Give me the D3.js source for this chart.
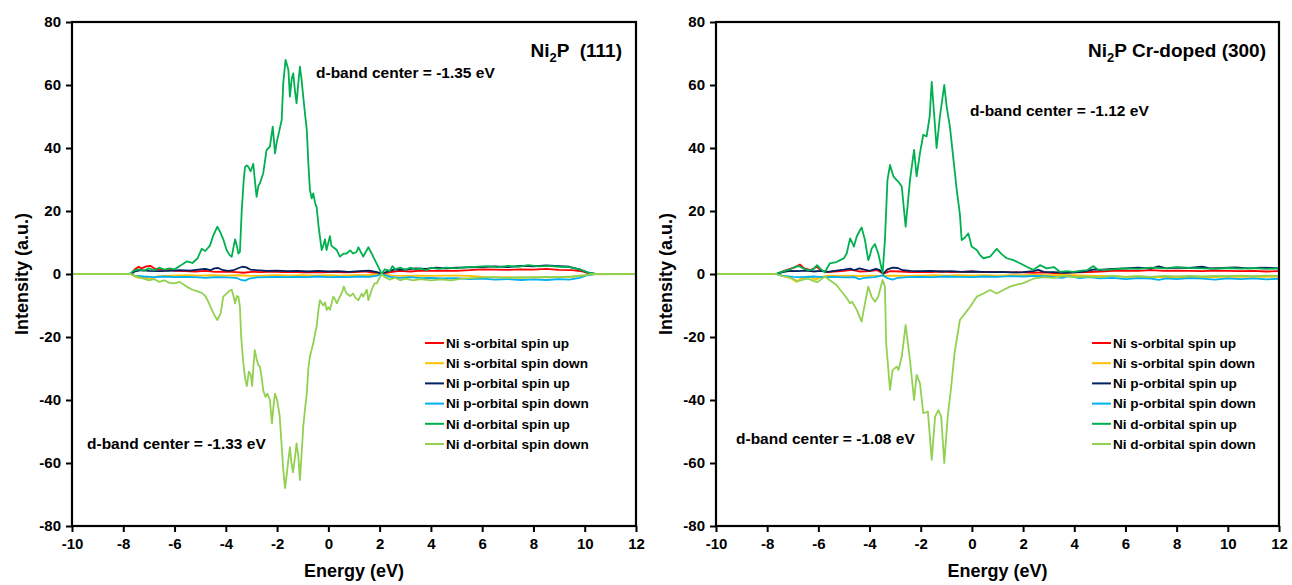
<!DOCTYPE html>
<html>
<head>
<meta charset="utf-8">
<script src="https://cdn.jsdelivr.net/npm/d3@7"></script>
<style>
  body { margin: 0; background: #fff; }
  text { font-family: "Liberation Sans", Arial, sans-serif; font-weight: bold; fill: #000; }
</style>
</head>
<body>
<svg id="chart" width="1292" height="585"></svg>
<script>
// tick values
const xTicks = [-10, -8, -6, -4, -2, 0, 2, 4, 6, 8, 10, 12];
const yTicks = [-80, -60, -40, -20, 0, 20, 40, 60, 80];

const seriesNames = [
  "Ni s-orbital spin up",
  "Ni s-orbital spin down",
  "Ni p-orbital spin up",
  "Ni p-orbital spin down",
  "Ni d-orbital spin up",
  "Ni d-orbital spin down"
];
const seriesColors = ["#ff0000", "#ffc000", "#002060", "#00b0f0", "#00b050", "#92d050"];

// ---- Ni2P (111) : [energy eV, intensity] ----
const L_sUp = [[-10,0],[-7.7,0],[-7.55,1.5],[-7.4,2.3],[-7.3,1.8],[-7.1,2.4],[-6.95,2.6],[-6.8,1.8],[-6.6,1.5],[-6.4,1.2],[-6.2,1.5],[-6.0,1.0],[-5.6,0.9],[-5.2,0.8],[-4.8,1.0],[-4.4,0.7],[-4.0,0.8],[-3.6,0.6],[-3.3,0.4],[-3.0,0.7],[-2.6,0.6],[-2.2,0.8],[-1.8,0.6],[-1.4,0.7],[-1.0,0.5],[-0.6,0.6],[-0.2,0.5],[0.2,0.7],[0.6,0.5],[1.0,0.6],[1.4,0.8],[1.8,0.4],[2.08,0],[2.4,0.6],[2.8,1.0],[3.2,0.8],[3.6,1.1],[4.0,1.0],[4.5,1.1],[5.0,1.0],[5.5,1.2],[6.0,1.5],[6.5,1.4],[7.0,1.3],[7.5,1.5],[8.0,1.4],[8.5,1.6],[9.0,1.3],[9.5,1.2],[9.9,0.8],[10.2,0.1],[12,0]];
const L_sDn = [[-10,0],[-7.7,0],[-7.55,-0.8],[-7.4,-1.2],[-7.2,-1.0],[-7.0,-1.5],[-6.85,-1.6],[-6.7,-0.8],[-6.4,-0.6],[-6.0,-0.5],[-5.5,-0.4],[-5.0,-0.5],[-4.5,-0.4],[-4.0,-0.5],[-3.5,-0.4],[-3.0,-0.6],[-2.5,-0.5],[-2.0,-0.4],[-1.5,-0.5],[-1.0,-0.4],[-0.5,-0.5],[0,-0.4],[0.5,-0.5],[1.0,-0.4],[1.5,-0.4],[2.08,0],[2.5,-0.5],[3.0,-0.6],[3.5,-0.5],[4.0,-0.6],[4.5,-0.5],[5.0,-0.5],[5.5,-0.6],[6.0,-0.9],[6.5,-1.1],[7.0,-1.0],[7.5,-1.2],[8.0,-1.0],[8.5,-1.1],[9.0,-1.0],[9.5,-0.9],[9.9,-0.6],[10.2,-0.1],[12,0]];
const L_pUp = [[-10,0],[-7.7,0],[-7.55,0.8],[-7.3,1.2],[-7.0,1.0],[-6.6,0.9],[-6.2,1.0],[-5.8,1.2],[-5.4,1.1],[-5.0,1.5],[-4.8,1.6],[-4.6,1.2],[-4.45,1.8],[-4.3,1.9],[-4.1,1.2],[-3.9,1.0],[-3.7,1.2],[-3.5,1.9],[-3.35,2.3],[-3.2,2.1],[-3.05,1.4],[-2.8,1.2],[-2.4,1.0],[-2.0,1.1],[-1.6,0.9],[-1.2,1.0],[-0.8,0.8],[-0.4,1.0],[0,0.8],[0.4,0.9],[0.8,0.7],[1.2,0.9],[1.6,1.1],[1.9,0.6],[2.08,0],[2.3,0.8],[2.6,1.5],[3.0,1.4],[3.4,1.8],[3.8,1.6],[4.2,2.0],[4.6,1.8],[5.0,2.0],[5.5,2.1],[6.0,2.2],[6.5,2.4],[7.0,2.2],[7.5,2.6],[8.0,2.4],[8.5,2.7],[9.0,2.5],[9.4,2.3],[9.8,1.5],[10.1,0.5],[10.4,0],[12,0]];
const L_pDn = [[-10,0],[-7.7,0],[-7.55,-0.5],[-7.2,-0.8],[-6.8,-1.0],[-6.4,-0.8],[-6.0,-1.0],[-5.6,-0.9],[-5.2,-1.0],[-4.8,-1.2],[-4.4,-1.0],[-4.0,-1.1],[-3.6,-1.2],[-3.4,-1.9],[-3.25,-2.1],[-3.1,-1.5],[-2.8,-1.1],[-2.4,-1.0],[-2.0,-0.9],[-1.6,-1.0],[-1.2,-0.9],[-0.8,-1.0],[-0.4,-0.8],[0,-1.0],[0.4,-0.9],[0.8,-1.0],[1.2,-0.8],[1.6,-0.9],[1.9,-0.5],[2.08,0],[2.4,-0.9],[2.8,-1.2],[3.2,-1.0],[3.6,-1.3],[4.0,-1.2],[4.5,-1.4],[5.0,-1.3],[5.5,-1.6],[6.0,-1.5],[6.5,-1.8],[7.0,-1.6],[7.5,-1.9],[8.0,-1.7],[8.5,-1.9],[9.0,-1.6],[9.4,-1.8],[9.8,-1.2],[10.1,-0.4],[10.4,0],[12,0]];
const L_dUp = [[-10,0],[-7.75,0],[-7.6,1],[-7.4,1.5],[-7.2,1],[-7.0,1.8],[-6.8,1.2],[-6.6,2],[-6.4,1.4],[-6.2,1.8],[-6.0,1.5],[-5.8,2.5],[-5.53,4],[-5.3,3.5],[-5.1,5],[-4.94,8],[-4.8,7.3],[-4.62,9],[-4.5,12],[-4.33,15],[-4.2,13],[-4.1,11],[-3.97,7.6],[-3.85,6],[-3.77,5.5],[-3.64,11],[-3.57,9],[-3.51,6.5],[-3.45,7],[-3.38,20],[-3.3,30],[-3.25,34],[-3.18,34.5],[-3.12,34],[-3.03,32.6],[-2.93,35],[-2.87,30],[-2.8,24.5],[-2.73,28],[-2.67,28.8],[-2.54,32],[-2.41,39.4],[-2.28,40.4],[-2.17,46.8],[-2.08,38.3],[-2.02,41.5],[-1.9,46],[-1.82,48.9],[-1.76,60.5],[-1.67,68],[-1.6,66],[-1.56,64.8],[-1.5,56.3],[-1.43,62],[-1.37,63.7],[-1.3,58],[-1.24,54.2],[-1.18,60],[-1.11,65.8],[-1.05,62],[-0.98,56.3],[-0.9,50],[-0.84,45.7],[-0.78,35],[-0.72,26.7],[-0.65,24],[-0.59,25.6],[-0.5,22],[-0.46,21.4],[-0.38,15],[-0.33,11.9],[-0.26,7.6],[-0.2,9],[-0.13,11],[-0.07,7.6],[0.06,12],[0.12,9],[0.19,8.5],[0.33,7.6],[0.45,5.5],[0.6,6.5],[0.71,6.5],[0.85,7.5],[0.97,6.5],[1.1,7],[1.17,8.5],[1.36,5.5],[1.56,8.5],[1.69,6.5],[1.88,3.4],[2.08,0],[2.2,1.5],[2.4,1],[2.5,2.5],[2.6,1.5],[2.8,2],[3.0,1.3],[3.2,2],[3.4,1.5],[3.6,1.8],[3.8,1.2],[4.0,2],[4.3,1.6],[4.6,2],[5.0,1.8],[5.4,2.2],[5.8,2.3],[6.2,2.5],[6.6,2.2],[7.0,2.6],[7.4,2.3],[7.8,2.8],[8.2,2.4],[8.6,2.6],[9.0,2.3],[9.4,2.2],[9.8,1.5],[10.1,0.5],[10.4,0.1],[12,0]];
const L_dDn = [[-10,0],[-7.7,0],[-7.55,-0.5],[-7.4,-1],[-7.2,-1.5],[-7.0,-2],[-6.8,-1.6],[-6.6,-2.5],[-6.4,-2],[-6.2,-2.8],[-6.0,-3],[-5.8,-2.5],[-5.53,-4],[-5.3,-5],[-5.1,-5.5],[-4.94,-6],[-4.8,-7],[-4.7,-8.5],[-4.6,-10.4],[-4.45,-13],[-4.33,-14.6],[-4.2,-12.5],[-4.1,-7.2],[-3.97,-6.2],[-3.85,-5.3],[-3.77,-5],[-3.7,-7],[-3.64,-9.3],[-3.57,-7],[-3.51,-7.2],[-3.45,-10.4],[-3.4,-20],[-3.33,-27.3],[-3.25,-33],[-3.18,-35.6],[-3.1,-31],[-3.03,-32],[-2.97,-35.5],[-2.93,-30],[-2.87,-24.2],[-2.8,-27],[-2.73,-29],[-2.67,-29.4],[-2.6,-33],[-2.54,-37],[-2.45,-39],[-2.38,-38],[-2.28,-40],[-2.2,-47.4],[-2.13,-41],[-2.08,-38],[-2.0,-40],[-1.9,-45],[-1.82,-54.8],[-1.76,-62],[-1.69,-68],[-1.63,-64],[-1.56,-59],[-1.5,-55],[-1.44,-60],[-1.38,-63],[-1.3,-58],[-1.24,-53.8],[-1.17,-58],[-1.11,-65.4],[-1.05,-58],[-0.98,-48.5],[-0.9,-42],[-0.84,-37.9],[-0.78,-30],[-0.72,-26.2],[-0.65,-24],[-0.59,-22],[-0.52,-19],[-0.46,-16.7],[-0.38,-11],[-0.33,-8.3],[-0.26,-9.3],[-0.2,-10],[-0.13,-9],[-0.07,-11.4],[0.0,-10.5],[0.06,-11.4],[0.19,-7.2],[0.26,-8],[0.33,-9.3],[0.45,-7.2],[0.55,-5.5],[0.6,-4],[0.71,-6.2],[0.85,-7],[0.97,-6.2],[1.05,-7.5],[1.17,-8.3],[1.3,-6.2],[1.36,-7.2],[1.5,-5],[1.56,-8.3],[1.69,-5],[1.8,-3],[1.88,-3],[2.08,0],[2.2,-1],[2.4,-1.8],[2.6,-1.2],[2.8,-2],[3.0,-1.5],[3.3,-2],[3.6,-1.6],[4.0,-2],[4.4,-1.7],[4.8,-2],[5.2,-1.5],[5.6,-1.3],[6.0,-1.1],[6.5,-1],[7.0,-1.2],[7.5,-1],[8.0,-1.1],[8.5,-0.9],[9.0,-1],[9.5,-0.8],[10.0,-0.4],[10.3,0],[12,0]];

// ---- Ni2P Cr-doped (300) ----
const R_sUp = [[-10,0],[-7.65,0],[-7.4,0.8],[-7.1,1.6],[-6.9,2.2],[-6.72,3.0],[-6.55,1.8],[-6.3,1.2],[-6.06,2.3],[-5.9,1.2],[-5.7,0.6],[-5.4,0.8],[-5.0,1.0],[-4.7,1.3],[-4.4,0.8],[-4.0,0.9],[-3.7,1.2],[-3.46,0.1],[-3.2,0.9],[-2.8,0.8],[-2.4,0.6],[-2.0,0.7],[-1.6,0.6],[-1.2,0.8],[-0.8,0.6],[-0.4,0.7],[0,0.8],[0.4,0.6],[0.8,0.7],[1.2,0.6],[1.6,0.5],[2.0,0.5],[2.4,0.4],[2.8,0.5],[3.2,0.3],[3.6,0.4],[4.0,0.5],[4.5,0.6],[5.0,0.8],[5.5,1.0],[6.0,1.1],[6.5,1.0],[7.0,1.2],[7.5,1.0],[8.0,1.1],[8.5,1.0],[9.0,0.9],[9.5,1.1],[10.0,1.0],[10.5,0.9],[11.0,1.0],[11.5,0.8],[12,0.9]];
const R_sDn = [[-10,0],[-7.65,0],[-7.4,-0.6],[-7.1,-1.2],[-6.85,-2.5],[-6.7,-1.5],[-6.4,-0.8],[-6.1,-1.8],[-5.9,-1.0],[-5.6,-0.5],[-5.2,-0.6],[-4.8,-0.5],[-4.4,-0.7],[-4.0,-0.5],[-3.5,-0.6],[-3.0,-0.5],[-2.5,-0.6],[-2.0,-0.5],[-1.5,-0.4],[-1.0,-0.5],[-0.5,-0.4],[0,-0.5],[0.5,-0.4],[1.0,-0.5],[1.5,-0.4],[2.0,-0.4],[2.5,-0.3],[3.0,-0.4],[3.5,-0.3],[4.0,-0.4],[4.5,-0.5],[5.0,-0.6],[5.5,-0.7],[6.0,-0.9],[6.5,-0.8],[7.0,-1.0],[7.5,-0.9],[8.0,-1.1],[8.5,-1.0],[9.0,-0.9],[9.5,-1.0],[10.0,-0.8],[10.5,-0.9],[11.0,-0.8],[11.5,-0.9],[12,-0.8]];
const R_pUp = [[-10,0],[-7.65,0],[-7.4,0.6],[-7.1,1.0],[-6.8,0.9],[-6.5,1.1],[-6.2,0.8],[-5.9,1.0],[-5.6,0.7],[-5.3,1.1],[-5.0,1.4],[-4.75,1.7],[-4.6,1.2],[-4.4,1.8],[-4.2,1.4],[-4.0,1.0],[-3.75,1.6],[-3.6,1.2],[-3.46,0.1],[-3.3,1.5],[-3.1,2.0],[-2.9,1.9],[-2.7,1.2],[-2.4,1.0],[-2.0,0.9],[-1.6,1.0],[-1.2,0.8],[-0.8,0.9],[-0.4,0.7],[0,0.8],[0.4,0.7],[0.8,0.6],[1.2,0.7],[1.6,0.5],[2.0,0.6],[2.4,0.9],[2.6,1.3],[2.8,0.7],[3.2,0.6],[3.6,0.4],[4.0,0.5],[4.4,0.8],[4.8,1.5],[5.0,1.3],[5.5,1.6],[6.0,1.8],[6.5,2.0],[7.0,1.7],[7.3,2.4],[7.6,1.8],[8.0,2.0],[8.5,1.9],[9.0,2.3],[9.3,1.8],[9.8,1.9],[10.3,2.1],[10.8,1.8],[11.3,2.0],[11.7,1.9],[12,1.8]];
const R_pDn = [[-10,0],[-7.65,0],[-7.4,-0.5],[-7.0,-0.9],[-6.6,-1.0],[-6.2,-0.8],[-5.8,-1.0],[-5.4,-0.9],[-5.0,-1.1],[-4.6,-1.0],[-4.4,-1.6],[-4.2,-1.2],[-3.8,-1.0],[-3.5,-0.4],[-3.3,-1.3],[-3.1,-1.8],[-2.9,-1.2],[-2.5,-1.0],[-2.0,-0.9],[-1.5,-1.0],[-1.0,-0.8],[-0.5,-0.9],[0,-1.0],[0.5,-0.8],[1.0,-0.9],[1.5,-0.7],[2.0,-0.8],[2.5,-0.6],[3.0,-0.8],[3.5,-1.2],[3.8,-0.7],[4.2,-1.3],[4.6,-1.0],[5.0,-1.4],[5.5,-1.2],[6.0,-1.6],[6.5,-1.3],[7.0,-1.5],[7.3,-1.9],[7.6,-1.4],[8.0,-1.6],[8.5,-1.3],[9.0,-1.5],[9.5,-1.8],[10.0,-1.4],[10.5,-1.6],[11.0,-1.4],[11.5,-1.7],[12,-1.5]];
const R_dUp = [[-10,0],[-7.65,0],[-7.5,0.5],[-7.3,1],[-7.1,1.5],[-6.9,2.3],[-6.75,2.5],[-6.6,1.8],[-6.4,1.2],[-6.2,1.5],[-6.05,2.8],[-5.9,1.5],[-5.75,0.5],[-5.55,3.4],[-5.3,3.8],[-5.15,4.4],[-5.0,5],[-4.89,6.6],[-4.76,11.3],[-4.68,10],[-4.61,8.7],[-4.5,11.9],[-4.4,13.5],[-4.31,14.8],[-4.18,10.8],[-4.05,4.4],[-3.98,6],[-3.92,8],[-3.79,9.5],[-3.66,6.5],[-3.55,2.5],[-3.49,0.2],[-3.4,10.6],[-3.3,29.8],[-3.2,34.6],[-3.07,31],[-2.94,29.8],[-2.84,29],[-2.74,27.7],[-2.59,15],[-2.42,29.8],[-2.26,39.4],[-2.16,31],[-2.03,38.4],[-1.9,44.2],[-1.77,43.7],[-1.65,50],[-1.57,61],[-1.47,50],[-1.38,40],[-1.25,50],[-1.08,60],[-0.99,53.3],[-0.86,46.8],[-0.73,37],[-0.59,26.5],[-0.47,19],[-0.40,10.8],[-0.27,11.6],[-0.14,12.9],[-0.01,8.7],[0.19,7.6],[0.32,6],[0.45,5],[0.71,5.5],[0.97,8],[1.16,6.3],[1.36,5],[1.62,4.4],[1.88,3.4],[2.14,2.3],[2.4,1.3],[2.66,2.8],[2.92,1.8],[3.2,2.2],[3.44,0.7],[3.7,0.9],[3.96,0.7],[4.2,1.0],[4.5,1.2],[4.75,2.5],[4.9,1.5],[5.2,1.3],[5.5,1.5],[6.0,1.8],[6.5,1.6],[7.0,2.0],[7.5,1.8],[8.0,2.2],[8.5,1.9],[9.0,1.8],[9.5,1.6],[10.0,1.9],[10.5,1.7],[11.0,1.9],[11.5,1.6],[12,1.8]];
const R_dDn = [[-10,0],[-7.65,0],[-7.5,-0.4],[-7.2,-1.0],[-7.0,-1.5],[-6.8,-2.3],[-6.6,-1.8],[-6.4,-1.5],[-6.2,-2.2],[-6.05,-2.6],[-5.9,-1.8],[-5.75,-0.8],[-5.55,-2],[-5.3,-3.4],[-5.15,-5],[-4.95,-7],[-4.76,-9.3],[-4.68,-8.8],[-4.5,-11.4],[-4.31,-15.1],[-4.18,-9.3],[-4.05,-4],[-3.92,-7.2],[-3.79,-8.8],[-3.66,-7.2],[-3.49,-1.9],[-3.4,-4],[-3.35,-22],[-3.2,-36.8],[-3.1,-30.5],[-2.94,-29.4],[-2.87,-30.5],[-2.74,-26.2],[-2.59,-16.2],[-2.42,-27.3],[-2.26,-40],[-2.16,-32],[-2.03,-34.7],[-1.9,-44.2],[-1.72,-43.7],[-1.57,-59],[-1.44,-45.3],[-1.31,-43.2],[-1.2,-45.3],[-1.08,-60],[-0.94,-44.8],[-0.81,-35.8],[-0.68,-25.2],[-0.47,-14.6],[-0.27,-12.5],[-0.07,-10.4],[0.19,-7.2],[0.45,-6.2],[0.71,-5.1],[0.97,-6.2],[1.23,-5.1],[1.49,-4],[1.75,-3.4],[2.01,-2.9],[2.4,-1.5],[2.8,-1.0],[3.2,-1.2],[3.6,-0.6],[4.0,-1.0],[4.5,-0.8],[5.0,-1.0],[5.5,-0.6],[6.0,-0.9],[6.5,-0.7],[7.0,-0.9],[7.5,-0.6],[8.0,-0.8],[8.5,-0.6],[9.0,-0.8],[9.5,-0.6],[10.0,-0.7],[10.5,-0.5],[11.0,-0.7],[11.5,-0.5],[12,-0.6]];

const panels = [
  {
    id: "L", x0: 72, x1: 636,
    series: [L_sUp, L_sDn, L_pUp, L_pDn, L_dUp, L_dDn],
    title: ["Ni", "2", "P  (111)"], titleX: 622,
    notes: [{ t: "d-band center = -1.35 eV", x: 316, y: 78 }, { t: "d-band center = -1.33 eV", x: 87, y: 449 }],
    legendX: 425
  },
  {
    id: "R", x0: 716, x1: 1279,
    series: [R_sUp, R_sDn, R_pUp, R_pDn, R_dUp, R_dDn],
    title: ["Ni", "2", "P Cr-doped (300)"], titleX: 1266,
    notes: [{ t: "d-band center = -1.12 eV", x: 970, y: 116 }, { t: "d-band center = -1.08 eV", x: 736, y: 444 }],
    legendX: 1092
  }
];

const plotTop = 22, plotBottom = 526;
const svg = d3.select("#chart");

panels.forEach((p) => {
  const x = d3.scaleLinear().domain([-10, 12]).range([p.x0, p.x1]);
  const y = d3.scaleLinear().domain([-80, 80]).range([plotBottom, plotTop]);

  svg.append("clipPath").attr("id", "clip" + p.id)
    .append("rect").attr("x", p.x0).attr("y", plotTop)
    .attr("width", p.x1 - p.x0).attr("height", plotBottom - plotTop);

  const line = d3.line().x((d) => x(d[0])).y((d) => y(d[1]));

  const g = svg.append("g").attr("clip-path", `url(#clip${p.id})`);
  p.series.forEach((s, i) => {
    g.append("path")
      .attr("d", line(s))
      .attr("fill", "none")
      .attr("stroke", seriesColors[i])
      .attr("stroke-width", 1.8)
      .attr("stroke-linejoin", "round");
  });

  // axes (plain hyphen minus like the original)
  const fmt = (d) => String(d);
  const xAxis = svg.append("g").attr("transform", `translate(0,${plotBottom})`)
    .call(d3.axisBottom(x).tickValues(xTicks).tickFormat(fmt).tickSize(6).tickPadding(6));
  const yAxis = svg.append("g").attr("transform", `translate(${p.x0},0)`)
    .call(d3.axisLeft(y).tickValues(yTicks).tickFormat(fmt).tickSize(6).tickPadding(5));
  [xAxis, yAxis].forEach((a) => {
    a.select(".domain").remove();
    a.selectAll(".tick line").attr("stroke", "#000").attr("stroke-width", 2);
    a.selectAll(".tick text").style("font-size", "15px").style("font-family", "Liberation Sans, Arial, sans-serif")
      .style("font-weight", "bold").attr("fill", "#000");
  });

  // frame
  svg.append("rect")
    .attr("x", p.x0).attr("y", plotTop)
    .attr("width", p.x1 - p.x0).attr("height", plotBottom - plotTop)
    .attr("fill", "none").attr("stroke", "#000").attr("stroke-width", 2.2);

  // axis titles
  svg.append("text")
    .attr("x", (p.x0 + p.x1) / 2).attr("y", 577)
    .attr("text-anchor", "middle").style("font-size", "18px")
    .text("Energy (eV)");
  svg.append("text")
    .attr("transform", `translate(${p.x0 - 44},${(plotTop + plotBottom) / 2}) rotate(-90)`)
    .attr("text-anchor", "middle").style("font-size", "18px")
    .text("Intensity (a.u.)");

  // panel title with subscript
  const title = svg.append("text")
    .attr("x", p.titleX).attr("y", 57)
    .attr("text-anchor", "end").style("font-size", "19px");
  title.append("tspan").text(p.title[0]);
  title.append("tspan").attr("dy", 5).style("font-size", "13px").text(p.title[1]);
  title.append("tspan").attr("dy", -5).style("white-space", "pre").text(p.title[2]);

  // d-band notes
  p.notes.forEach((n) => {
    svg.append("text").attr("x", n.x).attr("y", n.y)
      .style("font-size", "15.5px").text(n.t);
  });

  // legend
  const legend = svg.append("g").attr("transform", `translate(${p.legendX},343)`);
  seriesNames.forEach((name, i) => {
    const row = legend.append("g").attr("transform", `translate(0,${i * 20.2})`);
    row.append("line").attr("x1", 0).attr("x2", 19).attr("y1", 0).attr("y2", 0)
      .attr("stroke", seriesColors[i]).attr("stroke-width", 2);
    row.append("text").attr("x", 21).attr("y", 0).attr("dy", "0.35em")
      .style("font-size", "13.6px").text(name);
  });
});
</script>
</body>
</html>
